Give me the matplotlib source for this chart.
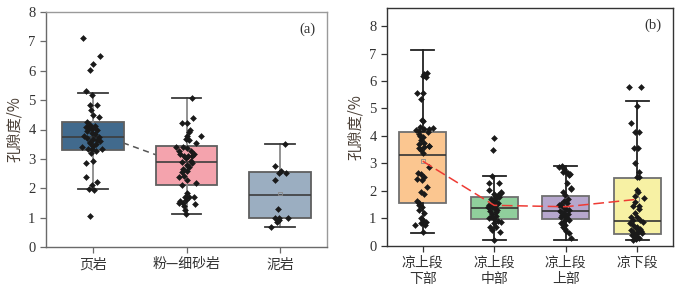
import matplotlib
matplotlib.use("Agg")
import matplotlib.pyplot as plt

# ---------------- data: panel (a) ----------------
cats_a = ["页岩", "粉—细砂岩", "泥岩"]
colors_a = ["#416a8d", "#f4a3ad", "#9baec1"]
q1_a = [3.31, 2.10, 0.99]
med_a = [3.76, 2.88, 1.77]
q3_a = [4.26, 3.43, 2.56]
lo_a = [1.96, 1.12, 0.69]
hi_a = [5.24, 5.08, 3.49]
mean_a = [3.92, 2.76, 1.82]

shale_v = [7.13, 6.50, 6.23, 6.03, 5.30, 5.16, 4.85, 4.85, 4.67, 4.50, 4.43,
           4.25, 4.17, 4.10, 4.06, 4.01, 3.99, 3.94, 3.87, 3.83, 3.76, 3.72,
           3.67, 3.65, 3.56, 3.53, 3.49, 3.44, 3.40, 3.35, 3.34, 3.33, 3.28,
           4.12, 3.60, 3.78,
           3.19, 2.92, 2.87, 2.40, 2.22, 2.11, 1.96, 1.93, 1.05]
shale_j = [-0.11, 0.08, 0.00, -0.03, -0.07, -0.01, -0.03, 0.04, -0.02, 0.00, 0.07,
           -0.06, -0.03, -0.07, -0.04, -0.014, 0.04, -0.06, -0.007, 0.02, 0.07, -0.06,
           0.00, 0.04, -0.035, -0.03, 0.035, 0.00, -0.12, 0.10, -0.05, -0.007, 0.035,
           0.02, 0.08, -0.09,
           -0.02, 0.00, -0.07, -0.075, 0.04, -0.01, -0.04, 0.01, -0.035]

silt_v = [5.07, 4.40, 4.23, 4.23, 4.00, 3.93, 3.79, 3.77, 3.66, 3.65, 3.55,
          3.42, 3.40, 3.37, 3.27, 3.26, 3.18, 3.18, 3.11, 3.09, 3.11, 3.04,
          2.93, 2.91, 2.86, 2.79, 2.72, 2.65, 2.59, 2.38, 2.43, 2.54, 2.29,
          2.17, 2.11, 1.83, 1.71, 1.71, 1.71, 1.57, 1.51, 1.61, 1.49, 1.45,
          1.38, 1.26, 1.12]
silt_j = [0.064, 0.07, -0.046, 0.00, 0.04, 0.025, 0.16, 0.01, -0.01, 0.025, 0.10,
          -0.11, -0.04, 0.01, -0.08, 0.05, -0.07, 0.08, -0.025, 0.02, 0.06, -0.01,
          0.046, -0.046, 0.06, 0.00, 0.03, -0.04, 0.00, -0.08, -0.025, -0.05, 0.00,
          0.10, -0.05, 0.00, -0.02, 0.03, 0.08, -0.07, -0.04, -0.01, -0.08, 0.09,
          -0.03, -0.02, -0.01]

mud_v = [3.49, 2.75, 2.53, 2.58, 2.53, 2.28, 1.28, 1.00, 1.00, 1.00, 0.85, 0.91, 0.67]
mud_j = [0.05, -0.05, -0.01, 0.01, 0.065, -0.06, -0.025, -0.05, -0.01, 0.085, -0.035, -0.015, -0.10]

# ---------------- data: panel (b) ----------------
cats_b = ["凉上段\n下部", "凉上段\n中部", "凉上段\n上部", "凉下段"]
colors_b = ["#fbc690", "#90cf9c", "#b6a7cd", "#f7f1a4"]
q1_b = [1.55, 0.98, 0.98, 0.41]
med_b = [3.30, 1.37, 1.26, 0.89]
q3_b = [4.14, 1.79, 1.82, 2.48]
lo_b = [0.48, 0.21, 0.22, 0.20]
hi_b = [7.12, 2.54, 2.90, 5.28]
mean_b = [3.08, 1.47, 1.42, 1.69]

lower_v = [6.29, 6.26, 6.17, 6.15, 5.57, 5.57, 5.33, 4.58, 4.53, 4.33, 4.21,
           4.19, 4.24, 4.24, 4.27, 4.07, 3.97, 3.85, 3.70, 3.63, 3.58, 3.55,
           3.48, 3.36, 4.13, 4.00, 3.75, 3.65,
           2.88, 2.64, 2.60, 2.51, 2.42, 2.40, 2.15, 1.97, 1.88, 1.62, 1.57,
           1.49, 1.42, 1.30, 1.18, 1.01, 0.94, 0.87, 0.81, 0.75, 0.75, 0.49]
lower_j = [0.06, 0.02, 0.005, 0.05, -0.085, 0.00, -0.02, -0.01, 0.00, -0.04, -0.10,
           -0.055, 0.02, 0.09, 0.15, -0.05, 0.00, -0.03, -0.05, 0.085, 0.02, -0.055,
           -0.02, 0.01, 0.08, -0.035, 0.02, 0.09,
           0.09, -0.065, -0.03, 0.02, -0.075, -0.01, 0.055, -0.02, 0.02, -0.085, -0.05,
           -0.055, -0.01, -0.05, 0.02, -0.03, 0.01, 0.045, -0.02, -0.11, 0.035, 0.00]

middle_v = [3.93, 3.49, 2.54, 2.30, 2.30, 2.03, 1.91, 1.85, 1.75, 1.66, 1.60,
            1.70, 1.53, 1.48, 1.48, 1.41, 1.36, 1.41, 1.26, 1.21, 1.14, 1.09,
            1.05, 0.97, 0.90, 0.83, 0.85, 0.69, 0.57, 0.49, 0.21,
            1.88, 1.78, 1.55, 1.30, 0.67, 1.95, 1.00]
middle_j = [0.00, -0.02, -0.025, -0.08, 0.07, -0.08, 0.09, 0.05, 0.03, 0.00, 0.015,
            -0.05, -0.025, -0.08, 0.03, -0.025, 0.00, -0.09, -0.06, 0.02, -0.025, 0.03,
            -0.04, 0.00, 0.05, -0.01, 0.10, 0.03, -0.025, 0.08, 0.00,
            -0.01, 0.06, 0.05, 0.04, -0.06, 0.10, -0.08]

upper_v = [2.90, 2.78, 2.72, 2.64, 2.58, 2.70, 2.27, 2.08, 1.97, 1.83, 1.71,
           1.62, 1.55, 1.53, 1.42, 1.35, 1.30, 1.28, 1.18, 1.16, 1.08, 1.03,
           1.00, 0.91, 0.84, 0.76, 0.69, 0.62, 0.45, 0.28,
           2.85, 2.62, 2.10, 1.48, 0.95, 1.12, 0.55]
upper_j = [-0.05, -0.025, -0.005, 0.03, 0.05, -0.04, 0.015, 0.07, -0.04, -0.005, 0.03,
           -0.025, 0.015, -0.07, -0.04, 0.00, 0.04, -0.08, -0.03, 0.03, -0.005, -0.06,
           0.015, -0.025, -0.07, -0.005, -0.04, -0.015, 0.04, 0.07,
           -0.095, 0.055, 0.08, -0.095, 0.05, -0.05, 0.00]

lowseg_v = [5.77, 5.77, 5.09, 4.48, 4.15, 4.15, 3.57, 3.57, 3.00, 2.69, 2.49,
            2.49, 2.03, 1.95, 1.81, 1.72, 1.60, 1.45, 1.45, 1.32, 1.20, 1.06,
            1.03, 0.94, 0.94, 0.84, 0.88, 0.74, 0.69, 0.66, 0.62, 0.57, 0.51,
            0.49, 0.43, 0.38, 0.33, 0.31, 0.21, 0.25, 0.28, 0.55, 0.45]
lowseg_j = [-0.11, 0.046, 0.00, -0.09, -0.03, 0.018, -0.047, 0.009, -0.038, 0.028, -0.01,
            0.018, -0.01, 0.009, -0.03, 0.093, -0.03, 0.018, -0.057, 0.02, -0.038, -0.01,
            -0.085, -0.057, 0.037, -0.10, 0.08, -0.066, 0.00, -0.019, 0.037, -0.09, -0.057,
            0.009, -0.019, -0.075, -0.038, 0.00, -0.057, -0.019, 0.03, 0.05, 0.06]

pts_a = [(shale_v, shale_j), (silt_v, silt_j), (mud_v, mud_j)]
pts_b = [(lower_v, lower_j), (middle_v, middle_j), (upper_v, upper_j), (lowseg_v, lowseg_j)]

# ---------------- fonts ----------------
NUM_FONT = ["Liberation Serif", "Noto Sans CJK SC"]
CJK_FONT = ["Noto Sans CJK SC", "DejaVu Sans"]
TXT = "#333333"

fig = plt.figure(figsize=(6.84, 2.85), dpi=100)
ax_a = fig.add_axes([46 / 684, 1 - 247 / 285, 281 / 684, 235 / 285])
ax_b = fig.add_axes([387 / 684, 1 - 245.7 / 285, 286 / 684, 237.7 / 285])


def make_stats(q1, med, q3, lo, hi):
    return [dict(q1=a, med=b, q3=c, whislo=d, whishi=e, fliers=[])
            for a, b, c, d, e in zip(q1, med, q3, lo, hi)]


def draw_panel(ax, cats, colors, stats, pts, means, line_pts, box_ec, wh_c, med_c,
               line_c, line_ls, line_z, cap_c):
    pos = list(range(len(cats)))
    bp = ax.bxp(stats, positions=pos, widths=0.66, patch_artist=True,
                showfliers=False, manage_ticks=False,
                boxprops=dict(edgecolor=box_ec, linewidth=1.3),
                whiskerprops=dict(color=wh_c, linewidth=1.3),
                capprops=dict(color=cap_c, linewidth=1.3),
                medianprops=dict(color=med_c, linewidth=1.2),
                capwidths=0.32)
    for patch, c in zip(bp["boxes"], colors):
        patch.set_facecolor(c)
        patch.set_zorder(2)
    for key in ("whiskers", "caps", "medians"):
        for ln in bp[key]:
            ln.set_zorder(2.5)
    for i, (v, j) in enumerate(pts):
        xs = [i + d for d in j]
        ax.scatter(xs, v, marker="D", s=9, color="#1a1a1a", zorder=4, linewidths=0.4,
                   edgecolors="#1a1a1a")
    ax.plot(pos[:line_pts], means[:line_pts], color=line_c, linestyle=line_ls,
            linewidth=1.1, zorder=line_z)
    ax.scatter(pos, means, marker="s", s=7, facecolors="none",
               edgecolors="#8a8a8a", linewidths=0.6, zorder=3)
    ax.set_xticks(pos)
    ax.set_xticklabels(cats, fontfamily=CJK_FONT, fontsize=10, color=TXT,
                       linespacing=1.15)
    ax.set_xlim(-0.5, len(cats) - 0.5)


draw_panel(ax_a, cats_a, colors_a, make_stats(q1_a, med_a, q3_a, lo_a, hi_a),
           pts_a, mean_a, 2, "#5f5f5f", "#8a8a8a", "#3d3d3d",
           "#555555", (0, (4, 3)), 0.5, "#3a3a3a")
draw_panel(ax_b, cats_b, colors_b, make_stats(q1_b, med_b, q3_b, lo_b, hi_b),
           pts_b, mean_b, 4, "#6f6f6f", "#222222", "#333333",
           "#ee3b34", (0, (7, 3)), 5, "#222222")

ax_a.set_ylim(0, 8)
ax_b.set_ylim(0, 8.66)
ax_a.set_yticks(range(0, 9))
ax_b.set_yticks(range(0, 9))

for ax, spc in ((ax_a, "#6a6a6a"), (ax_b, "#333333")):
    for s in ax.spines.values():
        s.set_color(spc)
        s.set_linewidth(1.0)
    ax.tick_params(axis="both", direction="out", length=4, width=0.9, colors=spc,
                   labelcolor=TXT)
    for lab in ax.get_yticklabels():
        lab.set_fontfamily(NUM_FONT)
        lab.set_fontsize(10.5)
    ax.set_ylabel("孔隙度/%", fontfamily=NUM_FONT[::-1], fontsize=11, color="#4a3f36",
                  labelpad=4)

ax_a.spines["top"].set_color("#9a9a9a")
ax_a.spines["right"].set_color("#9a9a9a")

ax_a.text(0.96, 0.955, "(a)", transform=ax_a.transAxes, ha="right", va="top",
          fontfamily=NUM_FONT, fontsize=10.5, color=TXT)
ax_b.text(0.96, 0.955, "(b)", transform=ax_b.transAxes, ha="right", va="top",
          fontfamily=NUM_FONT, fontsize=10.5, color=TXT)

fig.savefig("out.png", dpi=100)
